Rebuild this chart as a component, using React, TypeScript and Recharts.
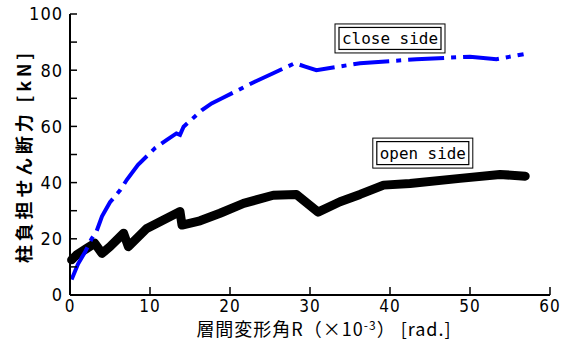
import {
  Line,
  LineChart,
  ReferenceDot,
  XAxis,
  YAxis
} from "recharts";

// drift angle R (x10^-3 rad) vs column shear (kN)
const closeX = [0.2, 1.0, 1.9, 2.7, 3.3, 4.0, 5.0, 6.3, 7.1, 8.5, 10.6, 12.1, 13.3, 13.75, 14.2, 16.5, 17.7, 19, 23.1, 25.4, 28.1, 29.4, 30.8, 36.25, 43.3, 50, 53.3, 56.7];
const closeY = [5.5, 11, 15.4, 20, 22.5, 28, 33, 37.4, 41, 46.3, 52.2, 55.2, 57.5, 57, 59.9, 65.8, 68.2, 70, 75.9, 78.9, 82.5, 81.3, 80, 82.5, 83.9, 84.8, 83.9, 85.7];

const openX = [0.2, 0.8, 2.1, 3.1, 4.0, 5.0, 6.7, 7.3, 9.6, 11.25, 13.75, 14.0, 16.25, 18.75, 21.7, 25.4, 28.3, 31, 33.75, 36.25, 39.2, 42.5, 48.75, 53.75, 56.9];
const openY = [12.5, 14.2, 16.6, 18.4, 14.8, 17.2, 22, 17.2, 23.7, 26.1, 29.7, 24.9, 26.4, 29.1, 32.6, 35.5, 35.8, 29.5, 33.2, 35.8, 39.1, 39.7, 41.5, 42.9, 42.3];

const xTicks = [0, 10, 20, 30, 40, 50, 60];
const yTicks = [0, 10, 20, 30, 40, 50, 60, 70, 80, 90, 100];

const notes = [
  { text: "close side", x: 40, y: 91.3, w: 110, h: 29 },
  { text: "open side", x: 44.1, y: 50.5, w: 100, h: 30 }
];

const closeData = closeX.map((x, i) => ({ x, y: closeY[i] }));
const openData = openX.map((x, i) => ({ x, y: openY[i] }));

const tickFont = "'DejaVu Sans Condensed', 'DejaVu Sans', sans-serif";
const cjkFont = "'Noto Sans CJK JP', sans-serif";

function NoteBox({ cx, cy, text, w, h }: any) {
  return (
    <g>
      <rect x={cx - w / 2} y={cy - h / 2} width={w} height={h} fill="#fff" stroke="#000" strokeWidth={1} />
      <rect x={cx - w / 2 + 4} y={cy - h / 2 + 3.5} width={w - 8} height={h - 7} fill="none" stroke="#000" strokeWidth={1.2} />
      <text
        x={cx}
        y={cy + 6}
        textAnchor="middle"
        fontFamily="'DejaVu Sans Mono', monospace"
        fontSize={16}
        textLength={w - 14}
        lengthAdjust="spacingAndGlyphs"
        fill="#000"
      >
        {text}
      </text>
    </g>
  );
}

export default function App() {
  return (
    <div style={{ position: "absolute", left: 0, top: 0, background: "#fff" }}>
      <LineChart width={565} height={347} margin={{ top: 14, right: 15, bottom: 0, left: 0 }}>
        <XAxis
          xAxisId="b"
          type="number"
          dataKey="x"
          domain={[0, 60]}
          ticks={xTicks}
          height={52}
          axisLine={{ stroke: "#000", strokeWidth: 2 }}
          tickLine={{ stroke: "#000", strokeWidth: 1.5 }}
          tickSize={-8}
          tickMargin={13}
          tick={{ fontSize: 17, fill: "#000", fontFamily: tickFont, letterSpacing: 1 }}
          label={({ viewBox }: any) => (
            <text x={viewBox.x + viewBox.width / 2 + 14} y={viewBox.y + 41} textAnchor="middle" fontFamily={cjkFont} fontSize={18} letterSpacing={1} fill="#000">
              層間変形角R（×10<tspan dy={-6} fontSize={12}>-3</tspan><tspan dy={6}>） [rad.]</tspan>
            </text>
          )}
        />
        <XAxis
          xAxisId="t"
          orientation="top"
          type="number"
          domain={[0, 60]}
          ticks={xTicks}
          height={0}
          axisLine={{ stroke: "#000", strokeWidth: 2 }}
          tickLine={{ stroke: "#000", strokeWidth: 1.5 }}
          tickSize={-8}
          tickFormatter={() => ""}
        />
        <YAxis
          yAxisId="l"
          type="number"
          domain={[0, 100]}
          ticks={yTicks}
          width={70}
          axisLine={{ stroke: "#000", strokeWidth: 2 }}
          tickLine={{ stroke: "#000", strokeWidth: 1.5 }}
          tickSize={-7}
          tickMargin={14}
          tickFormatter={(v: number) => (v % 20 === 0 ? String(v) : "")}
          tick={{ fontSize: 18, fill: "#000", fontFamily: tickFont, letterSpacing: 1 }}
          label={({ viewBox }: any) => {
            const cx = viewBox.x + 23;
            const cy = 263;
            return (
              <text
                x={cx}
                y={cy}
                transform={`rotate(-90 ${cx} ${cy})`}
                textAnchor="start"
                dominantBaseline="central"
                fontFamily={cjkFont}
                fontWeight="bold"
                fontSize={18}
                textLength={210}
                lengthAdjust="spacing"
                fill="#000"
              >
                柱負担せん断力 [kN]
              </text>
            );
          }}
        />
        <YAxis
          yAxisId="r"
          orientation="right"
          type="number"
          domain={[0, 100]}
          ticks={yTicks}
          width={0}
          axisLine={{ stroke: "#000", strokeWidth: 2 }}
          tickLine={{ stroke: "#000", strokeWidth: 1.5 }}
          tickSize={-7}
          tickFormatter={() => ""}
        />
        <Line
          xAxisId="b"
          yAxisId="l"
          data={openData}
          dataKey="y"
          stroke="#000"
          strokeWidth={9}
          strokeLinecap="round"
          strokeLinejoin="round"
          dot={false}
          isAnimationActive={false}
        />
        <Line
          xAxisId="b"
          yAxisId="l"
          data={closeData}
          dataKey="y"
          stroke="#0000FF"
          strokeWidth={4}
          strokeDasharray="36 7 5 7"
          dot={false}
          isAnimationActive={false}
        />
        {notes.map(n => (
          <ReferenceDot
            key={n.text}
            xAxisId="b"
            yAxisId="l"
            x={n.x}
            y={n.y}
            shape={(p: any) => <NoteBox cx={p.cx} cy={p.cy} text={n.text} w={n.w} h={n.h} />}
          />
        ))}
      </LineChart>
    </div>
  );
}
